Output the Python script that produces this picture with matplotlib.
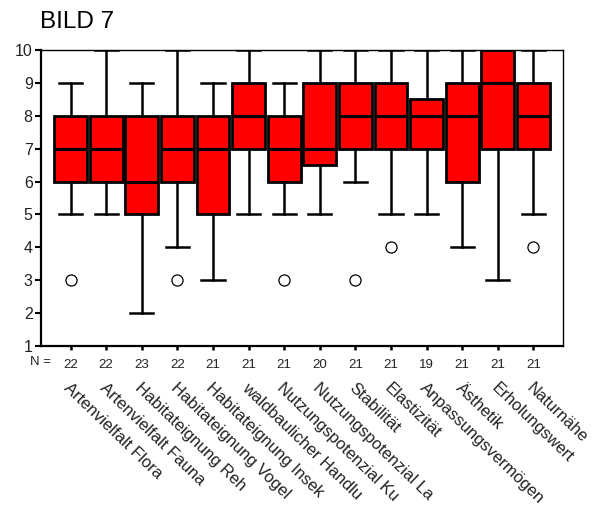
import matplotlib
matplotlib.use("Agg")
import matplotlib.pyplot as plt
import matplotlib.transforms as mtransforms

plt.rcParams['font.family'] = ['Liberation Sans', 'DejaVu Sans']

categories = ["Artenvielfalt Flora", "Artenvielfalt Fauna", "Habitateignung Reh",
              "Habitateignung Vogel", "Habitateignung Insek", "waldbaulicher Handlu",
              "Nutzungspotenzial Ku", "Nutzungspotenzial La", "Stabilität",
              "Elastizität", "Anpassungsvermögen", "Ästhetik", "Erholungswert", "Naturnähe"]
n_values = [22, 22, 23, 22, 21, 21, 21, 20, 21, 21, 19, 21, 21, 21]
q1 = [6, 6, 5, 6, 5, 7, 6, 6.5, 7, 7, 7, 6, 7, 7]
median = [7, 7, 6, 7, 7, 8, 7, 7, 8, 8, 8, 8, 9, 8]
q3 = [8, 8, 8, 8, 8, 9, 8, 9, 9, 9, 8.5, 9, 10, 9]
whislo = [5, 5, 2, 4, 3, 5, 5, 5, 6, 5, 5, 4, 3, 5]
whishi = [9, 10, 9, 10, 9, 10, 9, 10, 10, 10, 10, 10, 10, 10]
outliers = [[3], [], [], [3], [], [], [3], [], [3], [4], [], [], [], [4]]

stats = []
for i in range(len(categories)):
    stats.append(dict(label=str(n_values[i]), q1=q1[i], med=median[i], q3=q3[i],
                      whislo=whislo[i], whishi=whishi[i], fliers=outliers[i]))

fig = plt.figure(figsize=(5.95, 5.09), dpi=100)
ax = fig.add_axes([41/595, 1-346/509, (563-41)/595, (346-50)/509])

positions = list(range(len(categories)))
ax.bxp(stats, positions=positions, widths=0.92, patch_artist=True, showfliers=True,
       boxprops=dict(facecolor='#ff0000', edgecolor='black', linewidth=2),
       medianprops=dict(color='black', linewidth=2.2),
       whiskerprops=dict(color='black', linewidth=1.8),
       capprops=dict(color='black', linewidth=1.8),
       capwidths=0.65,
       flierprops=dict(marker='o', markersize=8, markerfacecolor='white',
                       markeredgecolor='black', markeredgewidth=0.9, linestyle='none'))

ax.set_xlim(-0.83, len(categories) - 1 + 0.83)
ax.set_ylim(1, 10)
ax.set_yticks(range(1, 11))
ax.tick_params(axis='y', labelsize=11.5, length=4, width=1.5, direction='out', pad=2,
               labelcolor='#222222')
ax.set_xticks(positions)
ax.set_xticklabels([str(n) for n in n_values], fontsize=9.5, color='#222222')
ax.tick_params(axis='x', length=3, width=1.8, direction='out', pad=6)
for s in ['left', 'bottom']:
    ax.spines[s].set_linewidth(1.6)
for s in ['top', 'right']:
    ax.spines[s].set_linewidth(1.0)

trans = mtransforms.blended_transform_factory(ax.transData, ax.transAxes)
ax.text(-0.55, -0.035, "N =", transform=trans, ha='right', va='top', fontsize=9.5,
        color='#222222')

for i, name in enumerate(categories):
    ax.text(positions[i] + 0.02, -0.115, name, transform=trans, rotation=-44,
            rotation_mode='anchor', ha='left', va='top', fontsize=12, color='#222222')

fig.text(40/595, 1-22/509, "BILD 7", fontsize=17.5, ha='left', va='center')

fig.savefig("out.png", dpi=100)
